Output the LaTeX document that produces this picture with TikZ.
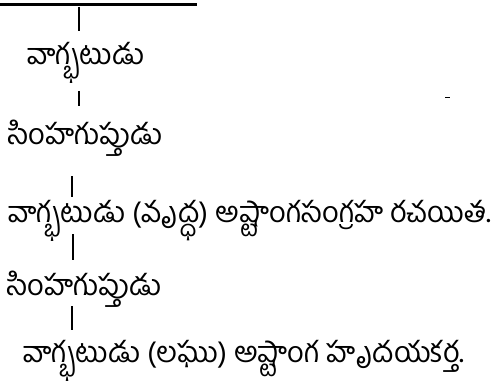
\documentclass[tikz,border=0pt]{standalone}
\usepackage{fontspec}
\newfontfamily\telugu[Script=Telugu]{Hind Guntur}
\begin{document}
\begin{tikzpicture}[x=1pt,y=-1pt,
  lbl/.style={anchor=base west,inner sep=0pt,font=\telugu\fontsize{29}{33}\selectfont},
  link/.style={line width=1.4pt}]
\useasboundingbox (0,0) rectangle (494,385);
\draw[line width=3pt] (0,5) -- (197,5);
\coordinate (top) at (79,7);
\node[lbl] (n1) at (27,65) {వాగ్భటుడు};
\node[lbl] (n2) at (8,144) {సింహగుప్తుడు};
\node[lbl] (n3) at (8,222) {వాగ్భటుడు (వృద్ధ) అష్టాంగసంగ్రహ రచయిత.};
\node[lbl] (n4) at (7,295) {సింహగుప్తుడు};
\node[lbl] (n5) at (23,362) {వాగ్భటుడు (లఘు) అష్టాంగ హృదయకర్త.};
\coordinate (a1) at (79,31);
\coordinate (b1) at (79,91);
\coordinate (b2) at (79,106);
\coordinate (c1) at (72,176);
\coordinate (c2) at (72,197);
\coordinate (d1) at (73,234);
\coordinate (d2) at (73,260);
\coordinate (e1) at (72,306);
\coordinate (e2) at (72,330);
\draw[link] (top) -- (a1);
\draw[link] (b1) -- (b2);
\draw[link] (c1) -- (c2);
\draw[link] (d1) -- (d2);
\draw[link] (e1) -- (e2);
\draw[line width=1pt] (445,97) -- (450,97);
\end{tikzpicture}
\end{document}
